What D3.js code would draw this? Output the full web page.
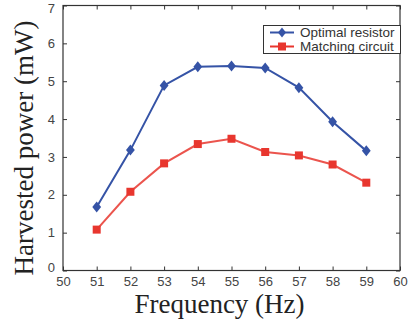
<!DOCTYPE html>
<html><head><meta charset="utf-8">
<script src="https://cdn.jsdelivr.net/npm/d3@7"></script>
<style>html,body{margin:0;padding:0;background:#fff;}svg{display:block;}</style>
</head><body>
<svg id="c" width="410" height="323"></svg>
<script>
const frequency = [51, 52, 53, 54, 55, 56, 57, 58, 59];
const optimalResistor = [1.68, 3.18, 4.89, 5.38, 5.40, 5.35, 4.83, 3.93, 3.16];
const matchingCircuit = [1.08, 2.08, 2.83, 3.34, 3.48, 3.13, 3.04, 2.80, 2.32];
const xTicks = [50, 51, 52, 53, 54, 55, 56, 57, 58, 59, 60];
const yTicks = [0, 1, 2, 3, 4, 5, 6, 7];
const seriesNames = ["Optimal resistor", "Matching circuit"];

const svg = d3.select("#c");
const L = 63, R = 400, T = 5.5, B = 270.5;
const x = d3.scaleLinear().domain([50, 60]).range([L, R]);
const y = d3.scaleLinear().domain([0, 7]).range([B, T]);
const tickColor = "#444";

// axes box
svg.append("rect").attr("x", L).attr("y", T).attr("width", R - L).attr("height", B - T)
  .attr("fill", "none").attr("stroke", "#333").attr("stroke-width", 1.2);

const axB = svg.append("g").attr("transform", `translate(0,${B})`)
  .call(d3.axisBottom(x).tickValues(xTicks).tickSize(-4).tickPadding(8).tickFormat(d3.format("d")));
const axT = svg.append("g").attr("transform", `translate(0,${T})`)
  .call(d3.axisTop(x).tickValues(xTicks).tickSize(-4).tickFormat(""));
const axL = svg.append("g").attr("transform", `translate(${L},0)`)
  .call(d3.axisLeft(y).tickValues(yTicks).tickSize(-4).tickPadding(8).tickFormat(d3.format("d")));
const axR = svg.append("g").attr("transform", `translate(${R},0)`)
  .call(d3.axisRight(y).tickValues(yTicks).tickSize(-4).tickFormat(""));
[axB, axT, axL, axR].forEach(a => {
  a.select(".domain").remove();
  a.selectAll("line").attr("stroke", "#333");
  a.selectAll("text").attr("font-family", "Liberation Sans, Arial, sans-serif")
    .attr("font-size", 13).attr("fill", tickColor);
});
axB.selectAll("text").attr("dy", "0.55em");
axL.selectAll("text").filter(d => d === 0).attr("dy", "0.1em");
axL.selectAll("text").filter(d => d === 7).attr("dy", "0.5em");

// lines
const line = d3.line().x((d, i) => x(frequency[i])).y(d => y(d));
const blue = "#3553a6", red = "#e8362e";
svg.append("path").datum(optimalResistor).attr("d", line)
  .attr("fill", "none").attr("stroke", blue).attr("stroke-width", 2);
svg.append("path").datum(matchingCircuit).attr("d", line)
  .attr("fill", "none").attr("stroke", red).attr("stroke-width", 2).attr("stroke-opacity", 0.85);

const diamond = (cx, cy, s) => `M${cx},${cy - s}L${cx + s * 0.8},${cy}L${cx},${cy + s}L${cx - s * 0.8},${cy}Z`;
svg.append("g").selectAll("path").data(optimalResistor).join("path")
  .attr("d", (d, i) => diamond(x(frequency[i]), y(d), 5.5)).attr("fill", blue);
svg.append("g").selectAll("rect").data(matchingCircuit).join("rect")
  .attr("x", (d, i) => x(frequency[i]) - 4).attr("y", d => y(d) - 4)
  .attr("width", 8).attr("height", 8).attr("fill", red);

// legend
const lg = svg.append("g");
lg.append("rect").attr("x", 263.5).attr("y", 25.5).attr("width", 137).attr("height", 28)
  .attr("fill", "#fff").attr("stroke", "#333").attr("stroke-width", 1);
[[blue, 32.5, 0], [red, 46.5, 1]].forEach(([c, yy, k]) => {
  lg.append("line").attr("x1", 270).attr("x2", 294).attr("y1", yy).attr("y2", yy)
    .attr("stroke", c).attr("stroke-width", 2);
  if (k === 0) lg.append("path").attr("d", diamond(282, yy, 5)).attr("fill", c);
  else lg.append("rect").attr("x", 278).attr("y", yy - 4).attr("width", 8).attr("height", 8).attr("fill", c);
  lg.append("text").attr("x", 300).attr("y", yy).attr("dy", "0.35em")
    .attr("font-family", "Liberation Sans, Arial, sans-serif").attr("font-size", 13.5)
    .attr("fill", "#333").text(seriesNames[k]);
});

// axis titles
svg.append("text").attr("x", (L + R) / 2 - 12).attr("y", 313).attr("text-anchor", "middle")
  .attr("font-family", "Liberation Serif, Times New Roman, serif").attr("font-size", 27)
  .attr("fill", "#222").text("Frequency (Hz)");
svg.append("text").attr("transform", `translate(33,${148}) rotate(-90)`).attr("text-anchor", "middle")
  .attr("font-family", "Liberation Serif, Times New Roman, serif").attr("font-size", 27)
  .attr("fill", "#222").text("Harvested power (mW)");
</script>
</body></html>
